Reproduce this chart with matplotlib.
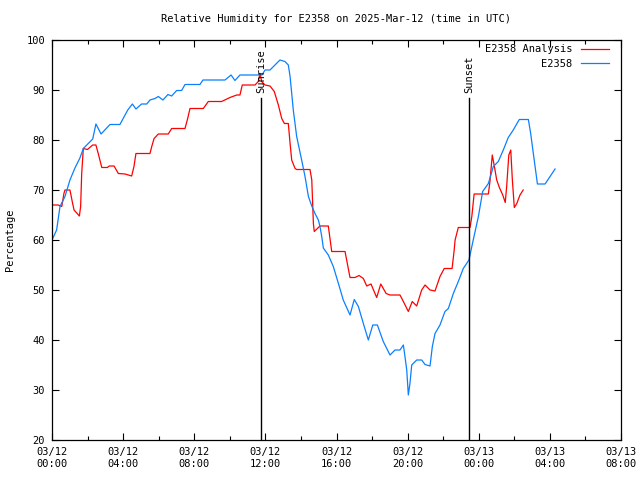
import matplotlib
matplotlib.use("Agg")
import matplotlib.pyplot as plt
import matplotlib.dates as mdates
from datetime import datetime, timedelta

# ---- data (hours since 2025-03-12 00:00 UTC, relative humidity %) ----
obs_hours = [0.0, 0.26, 0.45, 0.73, 1.01, 1.29, 1.57, 1.76, 2.29, 2.47, 2.76, 3.26, 3.82,
             4.26, 4.52, 4.72, 5.04, 5.33, 5.51, 5.79, 5.98, 6.24, 6.52, 6.73, 7.01, 7.29,
             7.48, 8.32, 8.49, 9.73, 10.07, 10.29, 10.57, 11.81, 11.98, 12.26, 12.82, 13.1,
             13.29, 13.39, 13.57, 13.76, 14.04, 14.23, 14.42, 14.61, 14.79, 14.98, 15.07,
             15.17, 15.26, 15.54, 15.82, 16.1, 16.38, 16.76, 17.0, 17.23, 17.51, 17.79,
             18.04, 18.3, 18.63, 19.01, 19.29, 19.57, 19.76, 19.85, 19.95, 20.04, 20.13,
             20.23, 20.51, 20.79, 20.98, 21.26, 21.39, 21.54, 21.82, 22.1, 22.29, 22.57,
             22.85, 23.13, 23.45, 23.69, 23.98, 24.22, 24.54, 24.82, 25.1, 25.38, 25.66,
             25.94, 26.28, 26.79, 26.92, 27.07, 27.3, 27.73, 28.01, 28.29]
obs_rh = [60, 62, 66.7, 68.7, 72, 74.4, 76.4, 78.3, 80.2, 83.2, 81.2, 83.1, 83.1,
          86, 87.2, 86.2, 87.2, 87.2, 88, 88.3, 88.7, 88, 89.1, 88.8, 89.9, 89.9,
          91.1, 91.1, 92, 92, 93, 91.9, 93, 93, 94, 94, 96, 95.7,
          95, 92.7, 86, 80.7, 76, 72.7, 68.7, 66.8, 65.3, 64, 62.7,
          60.7, 58.4, 57, 54.7, 51.4, 48, 45, 48.1, 46.7, 43.3, 40,
          43, 43, 39.7, 37, 38, 38, 39, 36.7, 34, 29, 31.3,
          35, 36, 36, 35.1, 34.8, 38.7, 41.3, 43, 45.7, 46.3, 49.3,
          51.7, 54.3, 56, 60, 64.7, 69.7, 71.3, 74.7, 75.7, 78, 80.5,
          82, 84.1, 84.1, 81.3, 77.3, 71.2, 71.2, 72.7, 74.2]

ana_hours = [0.0, 0.35, 0.55, 0.67, 0.73, 1.01, 1.16, 1.24, 1.54, 1.61, 1.67, 1.76, 1.99,
             2.29, 2.47, 2.6, 2.8, 3.11, 3.22, 3.49, 3.73, 4.11, 4.48, 4.61, 4.72, 5.51,
             5.61, 5.74, 5.98, 6.54, 6.73, 7.48, 7.63, 7.76, 8.51, 8.79, 9.54, 10.01,
             10.39, 10.57, 10.7, 11.42, 11.6, 11.7, 11.79, 11.98, 12.26, 12.5, 12.73,
             12.92, 13.07, 13.29, 13.39, 13.48, 13.67, 13.76, 14.51, 14.61, 14.7, 14.75,
             15.07, 15.54, 15.73, 16.48, 16.76, 17.04, 17.27, 17.51, 17.7, 17.94, 18.26,
             18.49, 18.79, 19.01, 19.57, 19.76, 20.04, 20.26, 20.51, 20.79, 20.98, 21.26,
             21.54, 21.82, 22.06, 22.5, 22.61, 22.67, 22.85, 23.51, 23.61, 23.74, 24.54,
             24.63, 24.76, 24.88, 25.01, 25.16, 25.35, 25.49, 25.57, 25.69, 25.8, 25.89,
             26.0, 26.14, 26.32, 26.5]
ana_rh = [67, 67, 66.7, 69.3, 70, 70, 67.3, 66, 64.8, 66.7, 73.3, 78.3, 78.1,
          79, 79, 77.3, 74.5, 74.5, 74.8, 74.8, 73.3, 73.2, 72.8, 74.7, 77.3, 77.3,
          78.7, 80.3, 81.2, 81.2, 82.3, 82.3, 84.3, 86.3, 86.3, 87.7, 87.7, 88.5,
          89, 89, 91, 91, 91.7, 93.3, 91.7, 91, 90.8, 89.7, 87,
          84.3, 83.3, 83.3, 79.3, 76, 74.3, 74.1, 74.1, 72, 63.3, 61.7,
          62.8, 62.8, 57.7, 57.7, 52.5, 52.5, 52.9, 52.3, 50.8, 51.2, 48.5,
          51.2, 49.3, 49, 49, 47.7, 45.7, 47.7, 46.8, 50, 51, 50,
          49.8, 52.7, 54.3, 54.3, 57.7, 60, 62.5, 62.5, 64.7, 69.2, 69.2,
          71.7, 77, 74.7, 72, 70.5, 69, 67.5, 70.7, 77, 78, 72,
          66.5, 67.3, 69, 70]

sun_hours = [11.75, 23.45]
sun_labels = ["Sunrise", "Sunset"]
series_labels = ["E2358 Analysis", "E2358"]
title = "Relative Humidity for E2358 on 2025-Mar-12 (time in UTC)"

base = datetime(2025, 3, 12)
to_dt = lambda hs: [base + timedelta(hours=h) for h in hs]

MONO = "DejaVu Sans Mono"
FS = 7.5

fig = plt.figure(figsize=(6.4, 4.8), dpi=100)
ax = fig.add_axes([52 / 640, 1 - 440 / 480, (621 - 52) / 640, 400 / 480])

ax.plot(to_dt(ana_hours), ana_rh, color="#ff0000", lw=0.9, label=series_labels[0])
ax.plot(to_dt(obs_hours), obs_rh, color="#0a80ff", lw=0.9, label=series_labels[1])

for h, lab in zip(sun_hours, sun_labels):
    t = base + timedelta(hours=h)
    ax.plot([t, t], [20, 88.4], color="black", lw=1.0)
    ax.text(t, 89.3, lab, rotation=90, ha="center", va="bottom",
            fontsize=FS, family=MONO)

ax.set_xlim(base, base + timedelta(hours=32))
ax.set_ylim(20, 100)
ax.set_yticks(range(20, 101, 10))
ax.xaxis.set_major_locator(mdates.HourLocator(byhour=range(0, 24, 4)))
ax.xaxis.set_minor_locator(mdates.HourLocator(byhour=range(0, 24, 2)))
ax.xaxis.set_major_formatter(mdates.DateFormatter("%m/%d\n%H:%M"))

ax.tick_params(which="both", direction="in", top=True, right=True,
               labelsize=FS, width=0.8, pad=5)
ax.tick_params(which="major", length=5)
ax.tick_params(which="minor", length=3)
for lbl in ax.get_xticklabels() + ax.get_yticklabels():
    lbl.set_family(MONO)
for sp in ax.spines.values():
    sp.set_linewidth(0.9)

ax.set_ylabel("Percentage", fontsize=FS, family=MONO, labelpad=8)
fig.text(336 / 640, 1 - 19 / 480, title, ha="center", va="center",
         fontsize=FS, family=MONO)

leg = ax.legend(loc="upper right", frameon=False, markerfirst=False,
                prop={"family": MONO, "size": FS}, handlelength=2.7,
                handletextpad=0.8, labelspacing=0.45, borderaxespad=0.6,
                bbox_to_anchor=(0.997, 1.015))

fig.savefig("out.png", dpi=100)
